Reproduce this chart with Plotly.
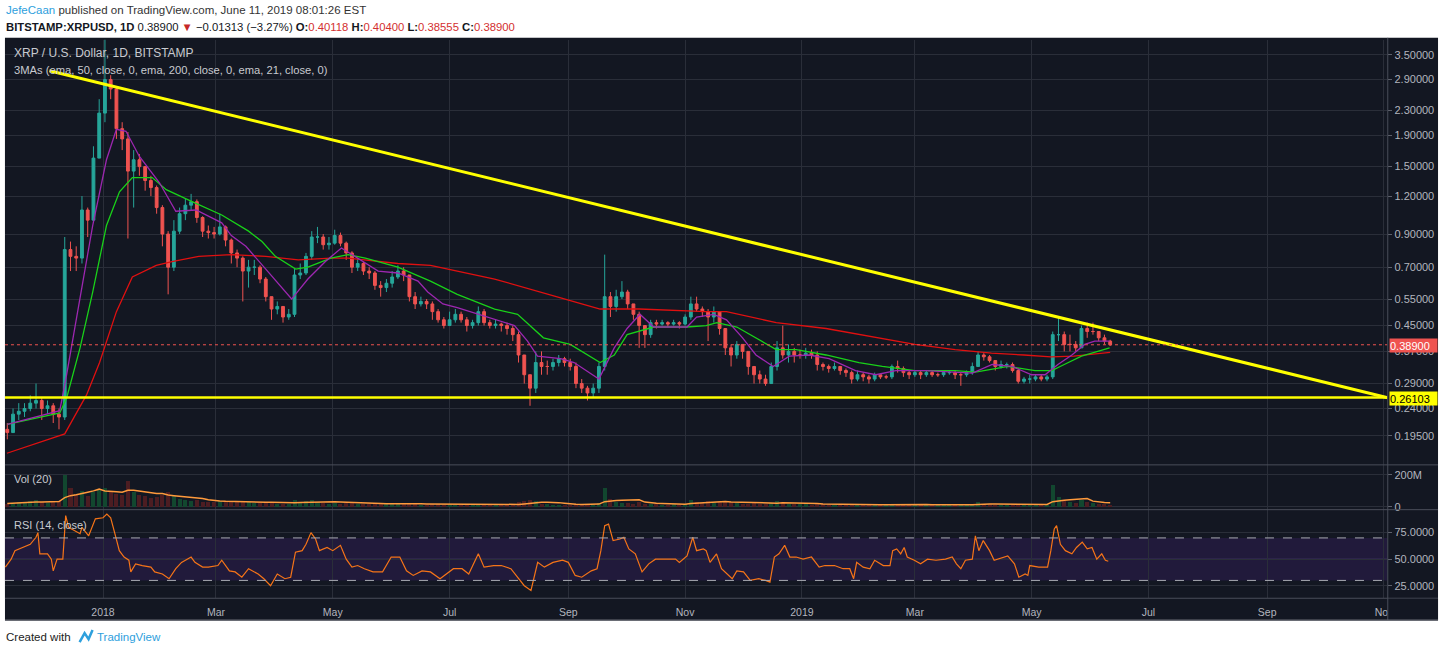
import numpy as np
import pandas as pd
import plotly.graph_objects as go

W, H = 1450, 657
BG = '#131722'
GRID = '#2a2e39'
TXT = '#b2b5be'
UP, DOWN = '#26a69a', '#ef5350'
AXFONT = 'Liberation Sans, Arial, sans-serif'
HDRFONT = 'Liberation Sans, Arial, sans-serif'
BASE = pd.Timestamp('2018-01-01')

# ---------------- data ----------------
# 3-day candles starting 2017-11-12, last one 2019-06-11
candle_start = '2017-11-12'
first_open = 0.205
close = [
    0.20, 0.23, 0.235, 0.24, 0.25, 0.255, 0.24, 0.245, 0.23, 0.225,
    0.80, 0.76, 0.75, 1.08, 1.00, 1.60, 2.25, 2.90, 2.70, 2.00,
    1.85, 1.45, 1.58, 1.50, 1.35, 1.28, 1.10, 0.90, 0.70, 0.92,
    1.05, 1.12, 1.15, 1.02, 0.92, 0.91, 0.90, 0.95, 0.86, 0.78,
    0.75, 0.68, 0.70, 0.70, 0.64, 0.56, 0.51, 0.52, 0.48, 0.49,
    0.66, 0.67, 0.76, 0.88, 0.88, 0.83, 0.84, 0.89, 0.84, 0.78,
    0.70, 0.72, 0.68, 0.67, 0.61, 0.60, 0.62, 0.65, 0.68, 0.66,
    0.56, 0.53, 0.54, 0.53, 0.50, 0.47, 0.45, 0.47, 0.49, 0.47,
    0.45, 0.46, 0.50, 0.46, 0.45, 0.455, 0.45, 0.44, 0.42, 0.36,
    0.31, 0.28, 0.34, 0.33, 0.33, 0.34, 0.35, 0.34, 0.33, 0.29,
    0.28, 0.27, 0.28, 0.33, 0.56, 0.52, 0.56, 0.58, 0.53, 0.49,
    0.45, 0.42, 0.46, 0.455, 0.46, 0.455, 0.46, 0.455, 0.48, 0.53,
    0.51, 0.50, 0.48, 0.50, 0.44, 0.38, 0.36, 0.39, 0.37, 0.33,
    0.31, 0.30, 0.29, 0.33, 0.38, 0.36, 0.37, 0.36, 0.36, 0.365,
    0.36, 0.335, 0.33, 0.325, 0.33, 0.32, 0.315, 0.30, 0.31, 0.305,
    0.30, 0.31, 0.305, 0.305, 0.33, 0.325, 0.315, 0.31, 0.315, 0.31,
    0.315, 0.31, 0.31, 0.315, 0.315, 0.31, 0.31, 0.315, 0.33, 0.36,
    0.355, 0.345, 0.33, 0.335, 0.335, 0.32, 0.295, 0.30, 0.30, 0.305,
    0.30, 0.305, 0.42, 0.42, 0.39, 0.39, 0.38, 0.44, 0.43, 0.43,
    0.41, 0.40, 0.389]
high = [
    0.215, 0.24, 0.25, 0.25, 0.265, 0.29, 0.26, 0.255, 0.25, 0.24,
    0.88, 0.85, 0.82, 1.20, 1.10, 1.75, 2.50, 3.95, 3.00, 2.75,
    2.10, 1.95, 1.70, 1.65, 1.48, 1.40, 1.30, 1.12, 0.92, 1.00,
    1.10, 1.18, 1.22, 1.17, 1.03, 0.96, 0.95, 1.05, 0.96, 0.87,
    0.80, 0.76, 0.74, 0.74, 0.71, 0.65, 0.56, 0.54, 0.52, 0.51,
    0.69, 0.72, 0.78, 0.92, 0.95, 0.90, 0.88, 0.93, 0.91, 0.85,
    0.79, 0.75, 0.73, 0.70, 0.68, 0.63, 0.64, 0.68, 0.71, 0.70,
    0.66, 0.58, 0.56, 0.55, 0.54, 0.51, 0.48, 0.50, 0.51, 0.50,
    0.48, 0.47, 0.52, 0.51, 0.47, 0.47, 0.46, 0.46, 0.45, 0.43,
    0.36, 0.31, 0.37, 0.37, 0.345, 0.35, 0.36, 0.355, 0.35, 0.34,
    0.30, 0.285, 0.29, 0.34, 0.77, 0.58, 0.59, 0.63, 0.59, 0.53,
    0.50, 0.45, 0.47, 0.47, 0.47, 0.465, 0.47, 0.465, 0.49, 0.56,
    0.56, 0.52, 0.51, 0.52, 0.50, 0.44, 0.39, 0.40, 0.39, 0.37,
    0.33, 0.32, 0.31, 0.34, 0.40, 0.45, 0.39, 0.38, 0.375, 0.38,
    0.375, 0.37, 0.34, 0.335, 0.34, 0.33, 0.325, 0.32, 0.32, 0.315,
    0.31, 0.315, 0.31, 0.31, 0.335, 0.345, 0.33, 0.32, 0.32, 0.32,
    0.32, 0.32, 0.315, 0.32, 0.32, 0.32, 0.315, 0.32, 0.34, 0.37,
    0.365, 0.36, 0.345, 0.345, 0.34, 0.34, 0.325, 0.305, 0.31, 0.31,
    0.31, 0.31, 0.43, 0.48, 0.43, 0.42, 0.40, 0.45, 0.46, 0.46,
    0.43, 0.42, 0.404]
low = [
    0.19, 0.20, 0.22, 0.225, 0.235, 0.24, 0.22, 0.23, 0.215, 0.205,
    0.22, 0.68, 0.68, 0.72, 0.88, 0.98, 1.60, 2.10, 2.50, 1.85,
    1.70, 0.87, 1.10, 1.40, 1.25, 1.20, 1.05, 0.82, 0.57, 0.68,
    0.90, 1.00, 1.08, 0.98, 0.88, 0.87, 0.87, 0.89, 0.82, 0.72,
    0.70, 0.54, 0.60, 0.66, 0.62, 0.54, 0.47, 0.49, 0.46, 0.47,
    0.48, 0.64, 0.66, 0.74, 0.84, 0.80, 0.80, 0.83, 0.82, 0.74,
    0.67, 0.68, 0.66, 0.64, 0.59, 0.56, 0.58, 0.60, 0.64, 0.63,
    0.54, 0.51, 0.52, 0.51, 0.47, 0.46, 0.44, 0.45, 0.46, 0.46,
    0.43, 0.44, 0.45, 0.45, 0.44, 0.44, 0.43, 0.42, 0.40, 0.34,
    0.29, 0.245, 0.27, 0.31, 0.31, 0.32, 0.33, 0.33, 0.32, 0.28,
    0.27, 0.255, 0.26, 0.27, 0.32, 0.48, 0.50, 0.55, 0.51, 0.47,
    0.38, 0.38, 0.41, 0.44, 0.45, 0.445, 0.45, 0.44, 0.45, 0.47,
    0.50, 0.48, 0.40, 0.46, 0.42, 0.36, 0.33, 0.35, 0.35, 0.31,
    0.29, 0.29, 0.285, 0.29, 0.32, 0.35, 0.34, 0.34, 0.35, 0.35,
    0.35, 0.32, 0.32, 0.315, 0.32, 0.31, 0.305, 0.29, 0.295, 0.295,
    0.29, 0.295, 0.30, 0.30, 0.30, 0.315, 0.305, 0.30, 0.305, 0.30,
    0.305, 0.305, 0.305, 0.305, 0.31, 0.30, 0.285, 0.305, 0.31, 0.33,
    0.345, 0.34, 0.32, 0.325, 0.325, 0.315, 0.29, 0.29, 0.29, 0.295,
    0.295, 0.295, 0.30, 0.40, 0.37, 0.37, 0.37, 0.38, 0.41, 0.42,
    0.40, 0.39, 0.3855]
volume_m = [
    20, 25, 30, 25, 35, 45, 30, 25, 30, 35,
    200, 120, 80, 100, 70, 90, 110, 120, 90, 80,
    75, 160, 90, 75, 65, 55, 60, 75, 90, 65,
    50, 45, 38, 42, 33, 28, 28, 36, 32, 28,
    32, 36, 28, 24, 24, 28, 28, 20, 20, 16,
    40, 32, 36, 45, 32, 26, 20, 24, 20, 24,
    24, 20, 18, 16, 20, 18, 16, 18, 20, 16,
    22, 18, 14, 14, 16, 18, 14, 16, 14, 12,
    11, 13, 20, 13, 11, 10, 11, 12, 14, 28,
    36, 45, 36, 20, 16, 14, 11, 12, 11, 18,
    16, 18, 14, 24, 120, 50, 32, 26, 22, 20,
    32, 20, 18, 16, 14, 14, 16, 14, 20, 45,
    32, 24, 36, 24, 28, 36, 28, 24, 20, 20,
    22, 18, 16, 24, 36, 32, 20, 18, 16, 18,
    14, 20, 16, 14, 12, 14, 12, 16, 14, 12,
    11, 14, 11, 10, 20, 16, 12, 11, 10, 12,
    11, 10, 11, 12, 10, 11, 14, 12, 16, 28,
    20, 16, 14, 12, 11, 14, 18, 14, 12, 11,
    12, 14, 140, 60, 36, 28, 24, 40, 32, 24,
    20, 18, 14]

# moving averages (day offsets from 2018-01-01)
ema200_day = [-50.2, -20, -8.6, -1.8, 7, 15.3, 27.8, 36, 50, 67, 85, 102, 119, 128, 154,
              171, 185, 204.5, 239, 259.6, 280, 315, 325.6, 351.6, 377.6, 403.6, 424, 445,
              464, 481, 495, 507, 526]
ema200_val = [0.171, 0.198, 0.266, 0.34, 0.50, 0.65, 0.71, 0.73, 0.76, 0.77, 0.76, 0.74, 0.75,
              0.75, 0.72, 0.71, 0.68, 0.64, 0.555, 0.51, 0.51, 0.50, 0.50, 0.46, 0.44, 0.41,
              0.39, 0.375, 0.365, 0.36, 0.355, 0.357, 0.367]
ema50_day = [-50, -22.6, -19, -12, -5.4, 1.8, 8.6, 15.3, 25.7, 33, 46.5, 62, 76, 83, 90,
             100.6, 107, 119, 128, 137, 154, 171, 185, 204.5, 216.5, 230, 244, 259.6, 267,
             273.7, 287.6, 305, 315, 320.6, 331, 341, 351.6, 362, 377.6, 394.8, 407, 424,
             445, 455.6, 472.7, 486.7, 495.5, 502, 511, 519.5, 525.7]
ema50_val = [0.213, 0.232, 0.26, 0.38, 0.58, 0.96, 1.24, 1.38, 1.38, 1.26, 1.15, 1.04, 0.92,
             0.85, 0.76, 0.69, 0.70, 0.75, 0.77, 0.75, 0.70, 0.63, 0.57, 0.51, 0.49, 0.41,
             0.39, 0.34, 0.36, 0.42, 0.445, 0.445, 0.45, 0.46, 0.445, 0.41, 0.375, 0.375,
             0.36, 0.34, 0.33, 0.32, 0.32, 0.316, 0.33, 0.32, 0.32, 0.335, 0.357, 0.37, 0.38]
ema21_day = [-50, -22.6, -19, -12, -5.4, 1.8, 7, 12, 19, 29.4, 38, 48.6, 62, 67, 74.6, 85,
             98.5, 107, 116, 124.5, 133, 143.7, 154, 164.5, 169.6, 177.5, 185, 195.6, 214.9,
             221.7, 226.9, 239, 246, 259, 267, 273.7, 280.4, 287.6, 305, 310, 319, 325.6,
             334, 341, 350, 358.4, 368.8, 379.2, 393, 403.6, 414, 429.6, 454, 464.4, 474.8,
             485, 492, 498.7, 506, 512.7, 517.9, 525.7]
ema21_val = [0.213, 0.236, 0.31, 0.555, 0.96, 1.58, 1.99, 1.96, 1.62, 1.33, 1.07, 1.08, 0.98,
             0.89, 0.82, 0.69, 0.55, 0.64, 0.73, 0.81, 0.75, 0.68, 0.67, 0.63, 0.58, 0.53,
             0.515, 0.49, 0.45, 0.40, 0.357, 0.35, 0.34, 0.30, 0.38, 0.44, 0.49, 0.445,
             0.445, 0.48, 0.49, 0.47, 0.41, 0.36, 0.33, 0.357, 0.36, 0.35, 0.32, 0.31, 0.32,
             0.32, 0.314, 0.335, 0.33, 0.31, 0.31, 0.335, 0.36, 0.39, 0.40, 0.40]

# RSI(14) readings
rsi_day = [-51, -48, -46, -42, -38, -35, -34, -33, -29, -27,
           -26, -24, -21, -19.5, -18, -15, -12, -11, -7.5, -4,
           0, 2, 4, 6.5, 8.5, 11, 13.5, 14.5, 17, 20.5,
           25, 27, 31, 34.5, 38, 41, 46, 48, 52, 55,
           60, 62, 66, 69, 72.5, 76, 81, 84, 87.5, 91,
           95, 98, 100.5, 104, 106, 108.6, 111, 113, 117, 120,
           124, 127, 130, 133, 136.5, 141, 146, 150.5, 155, 158.5,
           162, 166.6, 171, 176, 179, 183, 187.5, 191, 196, 199,
           204, 208, 213, 216.5, 220, 223.5, 227, 230.5, 235, 240,
           243, 246.6, 250, 255, 258, 260, 262, 264, 266.4, 270,
           272, 274.6, 278, 281.5, 285, 288.5, 294, 299, 301, 305,
           308, 310, 313.5, 315, 317, 320.4, 323, 326, 328.6, 331,
           334.5, 338, 342.5, 346, 348.3, 350.6, 353, 356, 358.7, 362,
           365.6, 370, 374, 377, 382, 386.5, 390, 392, 393.6, 397,
           400.5, 403, 407.5, 411, 412.4, 414.5, 416.6, 418.4, 420, 423.7,
           427, 430.6, 435, 440, 443.5, 445.7, 448, 450.4, 454, 455.6,
           457.4, 459.7, 463, 465.4, 470, 472.5, 476, 478.3, 481.6, 483,
           484, 488.7, 493.3, 495, 496.8, 498, 500, 502.6, 506, 508.4,
           511.4, 514, 516.5, 519, 521.6, 523.5, 525]
rsi_val = [42.5, 50, 58, 61, 64, 70.6, 75, 55, 55, 50,
           39, 50, 50, 91, 80, 77, 74, 80, 72, 88,
           89, 92.5, 89, 72, 58, 52, 49, 38, 45.6, 44,
           42.5, 38, 36, 31.6, 41, 47, 52, 47, 42.5, 42.5,
           44, 49, 39, 38, 33, 41, 36, 31.6, 25, 36,
           31.6, 33, 56.6, 58, 64, 75, 69, 58, 61, 58,
           63, 50, 42.5, 44, 41, 38, 38, 52, 52, 39,
           34.7, 39, 38, 31.6, 36, 41, 41, 36, 55, 42.5,
           44, 44, 41, 33, 25, 20.6, 47, 42.5, 47, 49,
           47, 34.7, 33, 39, 41, 58, 81.6, 83, 67.5, 69,
           70.6, 59.7, 55, 38, 45.6, 50, 50, 50, 47, 53,
           70.6, 58, 59.7, 58, 47, 55, 41, 36, 31.6, 39,
           38, 30, 31.6, 30, 28.4, 52, 55, 63, 52, 52,
           50, 52, 42.5, 44, 44, 41, 41, 31.6, 47, 42.5,
           41, 49, 44, 44, 58, 59.7, 55, 61, 52, 49,
           45.6, 50, 49, 50, 52, 45.6, 41, 49, 50, 72,
           58, 67.5, 58, 49, 52, 53, 45.6, 33, 36, 34.7,
           44, 42.5, 42.5, 58, 78.4, 81.6, 64, 58, 55, 61,
           66, 59.7, 61, 50, 55, 49, 48]

trend_dates = ['2017-12-04', '2019-11-03']
trend_prices = [3.10, 0.2605]
support_level = 0.26103
last_price = 0.389
price_ticks = [0.195, 0.24, 0.29, 0.37, 0.45, 0.55, 0.70, 0.90, 1.20, 1.50, 1.90, 2.30, 2.90, 3.50]
month_ticks = ['2018-01-01', '2018-03-01', '2018-05-01', '2018-07-01', '2018-09-01', '2018-11-01',
               '2019-01-01', '2019-03-01', '2019-05-01', '2019-07-01', '2019-09-01', '2019-11-01']
month_labels = ['2018', 'Mar', 'May', 'Jul', 'Sep', 'Nov', '2019', 'Mar', 'May', 'Jul', 'Sep', 'Nov']

# ---------------- helpers ----------------
def days(d):
    return BASE + pd.to_timedelta(np.array(d, dtype=float), unit='D')

def py(p):
    return 1 - p / H

def px(p):
    return p / W

dates = pd.date_range(candle_start, periods=len(close), freq='3D')
opens = [first_open] + close[:-1]
up = [c >= o for o, c in zip(opens, close)]
vol_ma = pd.Series(volume_m).rolling(7, min_periods=1).mean()

XL, XR = 5, 1394
x_range = ['2017-11-10 19:00', '2019-11-02 17:00']

fig = go.Figure()

# price pane
fig.add_trace(go.Candlestick(
    x=dates, open=opens, high=high, low=low, close=close,
    increasing=dict(line=dict(color=UP, width=1), fillcolor=UP),
    decreasing=dict(line=dict(color=DOWN, width=1), fillcolor=DOWN),
    whiskerwidth=0, xaxis='x', yaxis='y', showlegend=False, hoverinfo='skip'))
for dd, vv, col in [(ema200_day, ema200_val, '#e01010'), (ema50_day, ema50_val, '#19d119'),
                    (ema21_day, ema21_val, '#9c27b0')]:
    fig.add_trace(go.Scatter(x=days(dd), y=vv, mode='lines', line=dict(color=col, width=1.3),
                             xaxis='x', yaxis='y', showlegend=False, hoverinfo='skip'))
fig.add_trace(go.Scatter(x=pd.to_datetime(trend_dates), y=trend_prices, mode='lines',
                         line=dict(color='#ffff00', width=3), xaxis='x', yaxis='y',
                         showlegend=False, hoverinfo='skip'))

# volume pane
fig.add_trace(go.Bar(x=dates, y=volume_m,
                     marker=dict(color=['#12472f' if u else '#4c1d22' for u in up], line=dict(width=0)),
                     width=3 * 86400000 * 0.7, xaxis='x2', yaxis='y2', showlegend=False,
                     hoverinfo='skip'))
fig.add_trace(go.Scatter(x=dates, y=vol_ma, mode='lines', line=dict(color='#ff9a3c', width=1.5),
                         xaxis='x2', yaxis='y2', showlegend=False, hoverinfo='skip'))

# RSI pane
fig.add_trace(go.Scatter(x=days(rsi_day), y=rsi_val, mode='lines',
                         line=dict(color='#f57418', width=1.2), xaxis='x3', yaxis='y3',
                         showlegend=False, hoverinfo='skip'))

xcommon = dict(type='date', range=x_range, showgrid=True, gridcolor=GRID, gridwidth=1,
               tickvals=month_ticks, ticktext=month_labels, zeroline=False, showline=False,
               fixedrange=True)
ycommon = dict(side='right', showgrid=True, gridcolor=GRID, zeroline=False, showline=False,
               ticks='outside', ticklen=4, tickcolor='#5d606b',
               tickfont=dict(size=11, color=TXT, family=AXFONT), fixedrange=True)

layout_axes = dict(
    xaxis=dict(domain=[px(XL), px(XR)], anchor='y', showticklabels=False,
               rangeslider=dict(visible=False), **xcommon),
    xaxis2=dict(domain=[px(XL), px(XR)], anchor='y2', matches='x', showticklabels=False, **xcommon),
    xaxis3=dict(domain=[px(XL), px(XR)], anchor='y3', matches='x', showticklabels=True,
                ticks='outside', ticklen=4, tickcolor=BG,
                tickfont=dict(size=10.5, color=TXT, family=AXFONT), **xcommon),
    yaxis=dict(domain=[py(467), py(40)], anchor='x', type='log',
               range=[np.log10(0.1566), np.log10(3.92)], tickvals=price_ticks,
               ticktext=[f'{v:.5f}' for v in price_ticks], **ycommon),
    yaxis2=dict(domain=[py(512), py(467)], anchor='x2', range=[-18.75, 262.5],
                tickvals=[0, 200], ticktext=['0', '200M'], **ycommon),
    yaxis3=dict(domain=[py(601), py(512)], anchor='x3', range=[13.2, 96.6],
                tickvals=[25, 50, 75], ticktext=['25.0000', '50.0000', '75.0000'], **ycommon),
)

shapes = [
    # dark chart panel
    dict(type='rect', xref='paper', yref='paper', x0=px(5), x1=px(1445), y0=py(623), y1=py(38),
         fillcolor=BG, line=dict(width=0), layer='below'),
    # RSI band
    dict(type='rect', xref='paper', yref='y3', x0=px(XL), x1=px(XR), y0=30, y1=70,
         fillcolor='#211a3b', line=dict(width=0), layer='below'),
    dict(type='line', xref='paper', yref='y3', x0=px(XL), x1=px(XR), y0=50, y1=50,
         line=dict(color='#43386a', width=1), layer='below'),
    dict(type='line', xref='paper', yref='y3', x0=px(XL), x1=px(XR), y0=70, y1=70,
         line=dict(color='#a9abb3', width=1, dash='dash')),
    dict(type='line', xref='paper', yref='y3', x0=px(XL), x1=px(XR), y0=30, y1=30,
         line=dict(color='#a9abb3', width=1, dash='dash')),
    # support and last price lines
    dict(type='line', xref='paper', yref='y', x0=px(XL), x1=px(XR), y0=support_level, y1=support_level,
         line=dict(color='#ffff00', width=2.5)),
    dict(type='line', xref='paper', yref='y', x0=px(XL), x1=px(XR), y0=last_price, y1=last_price,
         line=dict(color='#ef5350', width=1, dash='dot')),
    # pane separators and axis border
    dict(type='line', xref='paper', yref='paper', x0=px(5), x1=px(1445), y0=py(467), y1=py(467),
         line=dict(color='#4a4e5a', width=1), layer='above'),
    dict(type='line', xref='paper', yref='paper', x0=px(5), x1=px(1445), y0=py(512), y1=py(512),
         line=dict(color='#4a4e5a', width=1), layer='above'),
    dict(type='line', xref='paper', yref='paper', x0=px(5), x1=px(1445), y0=py(601), y1=py(601),
         line=dict(color='#4a4e5a', width=1), layer='above'),
    dict(type='rect', xref='paper', yref='paper', x0=px(1394.5), x1=px(1445), y0=py(623), y1=py(601.5),
         fillcolor=BG, line=dict(width=0), layer='above'),
    dict(type='line', xref='paper', yref='paper', x0=px(1394.5), x1=px(1394.5), y0=py(623), y1=py(38),
         line=dict(color='#4a4e5a', width=1), layer='above'),
    dict(type='line', xref='paper', yref='paper', x0=px(5), x1=px(1445), y0=py(623), y1=py(623),
         line=dict(color='#6a6d75', width=1.5), layer='above'),
    # TradingView logo (simple mark)
    dict(type='path', xref='paper', yref='paper',
         path=f'M {px(80)} {py(645)} L {px(85)} {py(636)} L {px(89)} {py(642)} L {px(93)} {py(633)}',
         line=dict(color='#2ea0dd', width=2.5)),
]


def ann(x, y, text, size=12, color=TXT, family=HDRFONT, xanchor='left', **kw):
    return dict(x=px(x), y=py(y), xref='paper', yref='paper', text=text, showarrow=False,
                xanchor=xanchor, yanchor='middle', font=dict(size=size, color=color, family=family), **kw)

R = '#d32f2f'
annotations = [
    ann(4, 10, '<span style="color:#2ea0dd">JefeCaan</span> published on TradingView.com, June 11, 2019 08:01:26 EST',
        size=11.5, color='#333333'),
    ann(4, 27, '<b>BITSTAMP:XRPUSD, 1D</b> 0.38900 <span style="color:#c62828">▼</span> −0.01313 (−3.27%) '
        f'<b>O:</b><span style="color:{R}">0.40118</span> <b>H:</b><span style="color:{R}">0.40400</span> '
        f'<b>L:</b><span style="color:{R}">0.38555</span> <b>C:</b><span style="color:{R}">0.38900</span>',
        size=11.3, color='#131722'),
    ann(12, 53, 'XRP / U.S. Dollar, 1D, BITSTAMP', size=12, color='#c8cad0'),
    ann(12, 70, '3MAs (ema, 50, close, 0, ema, 200, close, 0, ema, 21, close, 0)', size=11.2, color='#c8cad0'),
    ann(12, 481, 'Vol (20)', size=11, color='#c8cad0'),
    ann(12, 527, 'RSI (14, close)', size=11, color='#c8cad0'),
    ann(1396, 347, '0.38900', size=11, color='#ffffff', family=AXFONT, bgcolor='#ef5350',
        width=47, height=13, align='left', borderpad=0),
    ann(1396, 400, '0.26103', size=11, color='#000000', family=AXFONT, bgcolor='#ffff00',
        width=47, height=13, align='left', borderpad=0),
    ann(4, 640, 'Created with', size=11.5, color='#222222'),
    ann(95, 640, 'TradingView', size=11.5, color='#2ea0dd'),
]

fig.update_layout(
    width=W, height=H, margin=dict(l=0, r=0, t=0, b=0), autosize=False,
    paper_bgcolor='#ffffff', plot_bgcolor=BG, showlegend=False, bargap=0,
    shapes=shapes, annotations=annotations, hovermode=False, **layout_axes)

fig.write_html('out.html')
